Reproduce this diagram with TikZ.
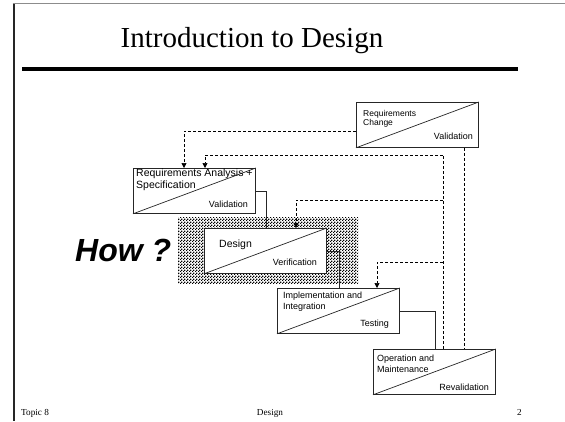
\documentclass[tikz,border=0pt]{standalone}
\usepackage{fontspec}
\setmainfont{Liberation Serif}
\newfontfamily\arialfont{Liberation Sans}
\usetikzlibrary{calc,patterns,arrows.meta}

% fine black/white checkerboard used behind the design phase
\pgfdeclarepatternformonly{finecheck}{\pgfpointorigin}{\pgfqpoint{3pt}{3pt}}{\pgfqpoint{3pt}{3pt}}{%
  \pgfpathrectangle{\pgfpointorigin}{\pgfqpoint{1.5pt}{1.5pt}}%
  \pgfpathrectangle{\pgfqpoint{1.5pt}{1.5pt}}{\pgfqpoint{1.5pt}{1.5pt}}%
  \pgfusepath{fill}}

\begin{document}
\begin{tikzpicture}[x=1pt,y=-1pt,
  phase/.style={draw=black!85, line width=0.8pt, fill=white,
    minimum width=122pt, minimum height=45pt, anchor=north west, inner sep=0pt},
  lbl/.style={font=\arialfont\fontsize{9}{9}\selectfont, inner sep=0pt},
  smlbl/.style={font=\arialfont\fontsize{8.5}{8.5}\selectfont, inner sep=0pt},
  biglbl/.style={font=\arialfont\fontsize{10.5}{10.5}\selectfont, inner sep=0pt},
  flow/.style={line width=0.8pt, black!85},
  fb/.style={line width=0.7pt, dash pattern=on 3pt off 2pt},
  tip/.style={-{Triangle[length=5pt,width=5pt]}},
  foot/.style={font=\fontsize{9.2}{9.2}\selectfont, inner sep=0pt}]

\useasboundingbox (0,0) rectangle (565,421);

% slide frame and title
\draw[line width=2pt, black!85] (13.5,3) -- (13.5,421);
\draw[line width=1.5pt, black!45] (12.5,3.5) -- (565,3.5);
\node[font=\fontsize{29}{29}\selectfont, anchor=base, inner sep=0pt] (title) at (252,47) {Introduction to Design};
\draw[line width=4pt] (22,69) -- (518,69);

% highlighted area behind the design phase
\fill[pattern=finecheck] (178,217) rectangle (358,283);

% phases
\node[phase] (rc) at (356,102) {};
\node[phase] (ra) at (133,168) {};
\node[phase] (dz) at (204,228) {};
\node[phase] (im) at (277,288) {};
\node[phase] (op) at (373,349) {};
\foreach \b in {rc,ra,dz,im,op}
  \draw[line width=0.7pt, black!85] (\b.south west) -- (\b.north east);

% phase labels
\node[smlbl, anchor=base west] (rc1) at (363,116) {Requirements};
\node[smlbl, anchor=base west] (rc2) at (363,125.5) {Change};
\node[lbl, anchor=base east] (rc3) at (473,139) {Validation};

\node[biglbl, anchor=base west] (ra1) at (136,176) {Requirements Analysis +};
\node[biglbl, anchor=base west] (ra2) at (136,188) {Specification};
\node[lbl, anchor=base east] (ra3) at (248,207) {Validation};

\node[biglbl, anchor=base west] (dz1) at (219,247) {Design};
\node[lbl, anchor=base east] (dz2) at (317,265) {Verification};

\node[lbl, anchor=base west] (im1) at (283,298) {Implementation and};
\node[lbl, anchor=base west] (im2) at (283,309) {Integration};
\node[lbl, anchor=base east] (im3) at (389,326) {Testing};

\node[lbl, anchor=base west] (op1) at (377,361) {Operation and};
\node[lbl, anchor=base west] (op2) at (377,372) {Maintenance};
\node[lbl, anchor=base east] (op3) at (489,390) {Revalidation};

% forward flow between phases
\draw[flow] (ra.east) -| ($(dz.north west)+(62,0)$);
\draw[flow] (dz.east) -| ($(im.north west)+(62,0)$);
\draw[flow] (im.east) -| ($(op.north west)+(62,0)$);

% feedback paths
\draw[fb, tip] ($(rc.west)+(0,6)$) -| ($(ra.north west)+(51,0)$);
\coordinate (fbtop) at (443,155);
\draw[fb] ($(op.north west)+(70,0)$) -- (fbtop);
\draw[fb, tip] (fbtop) -| ($(ra.north west)+(72,0)$);
\draw[fb, tip] (443,200) -| ($(dz.north west)+(92,0)$);
\draw[fb, tip] (443,262) -| ($(im.north west)+(100,0)$);
\draw[fb] ($(rc.south west)+(108,0)$) -- ($(op.north west)+(91,0)$);

% question
\node[font=\arialfont\bfseries\itshape\fontsize{32}{32}\selectfont, anchor=base west, inner sep=0pt] (how) at (75,261) {How ?};

% footer
\node[foot, anchor=base west] (f1) at (21,415) {Topic 8};
\node[foot, anchor=base] (f2) at (270,415) {Design};
\node[foot, anchor=base east] (f3) at (522,415) {2};
\end{tikzpicture}
\end{document}
